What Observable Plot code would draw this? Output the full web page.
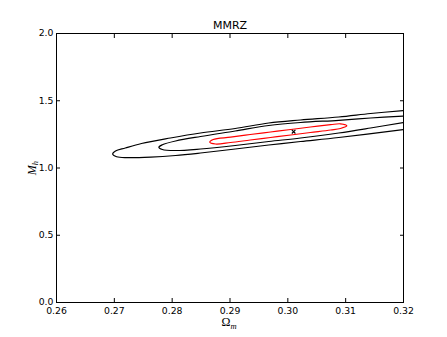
<!DOCTYPE html>
<html><head><meta charset="utf-8">
<script src="https://cdn.jsdelivr.net/npm/d3@7"></script>
<script src="https://cdn.jsdelivr.net/npm/@observablehq/plot@0.6"></script>
<style>body{margin:0;background:#fff}</style>
</head><body><div id="chart"></div>
<script>
const title = "MMRZ";
const xTicks = [0.26, 0.27, 0.28, 0.29, 0.30, 0.31, 0.32];
const yTicks = [0.0, 0.5, 1.0, 1.5, 2.0];

// outer (black) confidence contour, open at the right edge
const outerOm = [0.3200, 0.3143, 0.3088, 0.3022, 0.2967, 0.2909, 0.2849, 0.2797, 0.2747, 0.2719, 0.2702, 0.2697, 0.2704, 0.2722, 0.2763, 0.2806, 0.2849, 0.2909, 0.2967, 0.3022, 0.3088, 0.3200];
const outerMh = [1.4275, 1.4052, 1.3792, 1.3569, 1.3346, 1.2937, 1.2602, 1.2230, 1.1822, 1.1487, 1.1264, 1.1041, 1.0840, 1.0770, 1.0810, 1.0929, 1.1115, 1.1413, 1.1710, 1.1970, 1.2268, 1.2862];

// inner (black) contour
const innerOm = [0.3200, 0.3143, 0.3088, 0.3022, 0.2967, 0.2909, 0.2849, 0.2806, 0.2783, 0.2777, 0.2783, 0.2806, 0.2849, 0.2909, 0.2967, 0.3022, 0.3088, 0.3143, 0.3200];
const innerMh = [1.3866, 1.3717, 1.3546, 1.3383, 1.3160, 1.2751, 1.2342, 1.2007, 1.1725, 1.1546, 1.1375, 1.1301, 1.1413, 1.1673, 1.1970, 1.2230, 1.2602, 1.2974, 1.3383];

// red closed contour
const redOm = [0.2865, 0.2871, 0.2901, 0.2935, 0.2970, 0.3005, 0.3039, 0.3074, 0.3091, 0.3102, 0.3091, 0.3074, 0.3039, 0.3005, 0.2970, 0.2935, 0.2901, 0.2875];
const redMh = [1.1918, 1.2119, 1.2290, 1.2491, 1.2677, 1.2862, 1.3048, 1.3219, 1.3286, 1.3138, 1.2937, 1.2825, 1.2639, 1.2454, 1.2268, 1.2082, 1.1896, 1.1784];

const bestOm = [0.301];
const bestMh = [1.27];

const pts = (xs, ys) => xs.map((x, i) => ({x, y: ys[i]}));
const noLabel = () => "";

const chart = Plot.plot({
  width: 447, height: 337,
  marginLeft: 56, marginRight: 44, marginTop: 33, marginBottom: 35,
  x: {domain: [0.26, 0.32]},
  y: {domain: [0, 2]},
  style: {fontFamily: "DejaVu Sans", fontSize: "9.3px", background: "white", color: "black"},
  marks: [
    Plot.line(pts(outerOm, outerMh), {x: "x", y: "y", curve: "catmull-rom", stroke: "black", strokeWidth: 1.2, clip: true}),
    Plot.line(pts(innerOm, innerMh), {x: "x", y: "y", curve: "catmull-rom", stroke: "black", strokeWidth: 1.2, clip: true}),
    Plot.line(pts(redOm, redMh), {x: "x", y: "y", curve: "catmull-rom-closed", stroke: "#ff0000", strokeWidth: 1.2}),
    Plot.dot(pts(bestOm, bestMh), {x: "x", y: "y", symbol: "times", r: 1.8, stroke: "black", strokeWidth: 1.1}),
    Plot.axisX(xTicks, {anchor: "bottom", tickSize: 0, tickPadding: 5, tickFormat: d3.format(".2f"), label: null}),
    Plot.axisY(yTicks, {anchor: "left", tickSize: 0, tickPadding: 3, tickFormat: d3.format(".1f"), label: null}),
    Plot.axisX(xTicks, {anchor: "bottom", tickSize: -4, tickFormat: noLabel, label: null}),
    Plot.axisX(xTicks, {anchor: "top", tickSize: -4, tickFormat: noLabel, label: null}),
    Plot.axisY(yTicks, {anchor: "left", tickSize: -4, tickFormat: noLabel, label: null}),
    Plot.axisY(yTicks, {anchor: "right", tickSize: -4, tickFormat: noLabel, label: null}),
    Plot.frame({stroke: "black", strokeWidth: 1})
  ]
});
document.getElementById("chart").appendChild(chart);

const svg = d3.select(chart);
svg.append("text").attr("x", 230).attr("y", 29).attr("text-anchor", "middle")
  .attr("font-family", "DejaVu Sans").attr("font-size", 11).attr("fill", "black").text(title);

const xl = svg.append("text").attr("x", 229).attr("y", 326).attr("text-anchor", "middle")
  .attr("font-family", "Liberation Serif").attr("font-size", 12).attr("fill", "black");
xl.append("tspan").text("Ω");
xl.append("tspan").attr("font-style", "italic").attr("font-size", 8.5).attr("dy", 2.5).text("m");

const yl = svg.append("text").attr("transform", "translate(35.5,168) rotate(-90)").attr("text-anchor", "middle")
  .attr("font-family", "Liberation Serif").attr("font-size", 12).attr("fill", "black");
yl.append("tspan").attr("font-style", "italic").text("M");
yl.append("tspan").attr("font-style", "italic").attr("font-size", 8.5).attr("dy", 2.5).text("h");
</script>
</body></html>
